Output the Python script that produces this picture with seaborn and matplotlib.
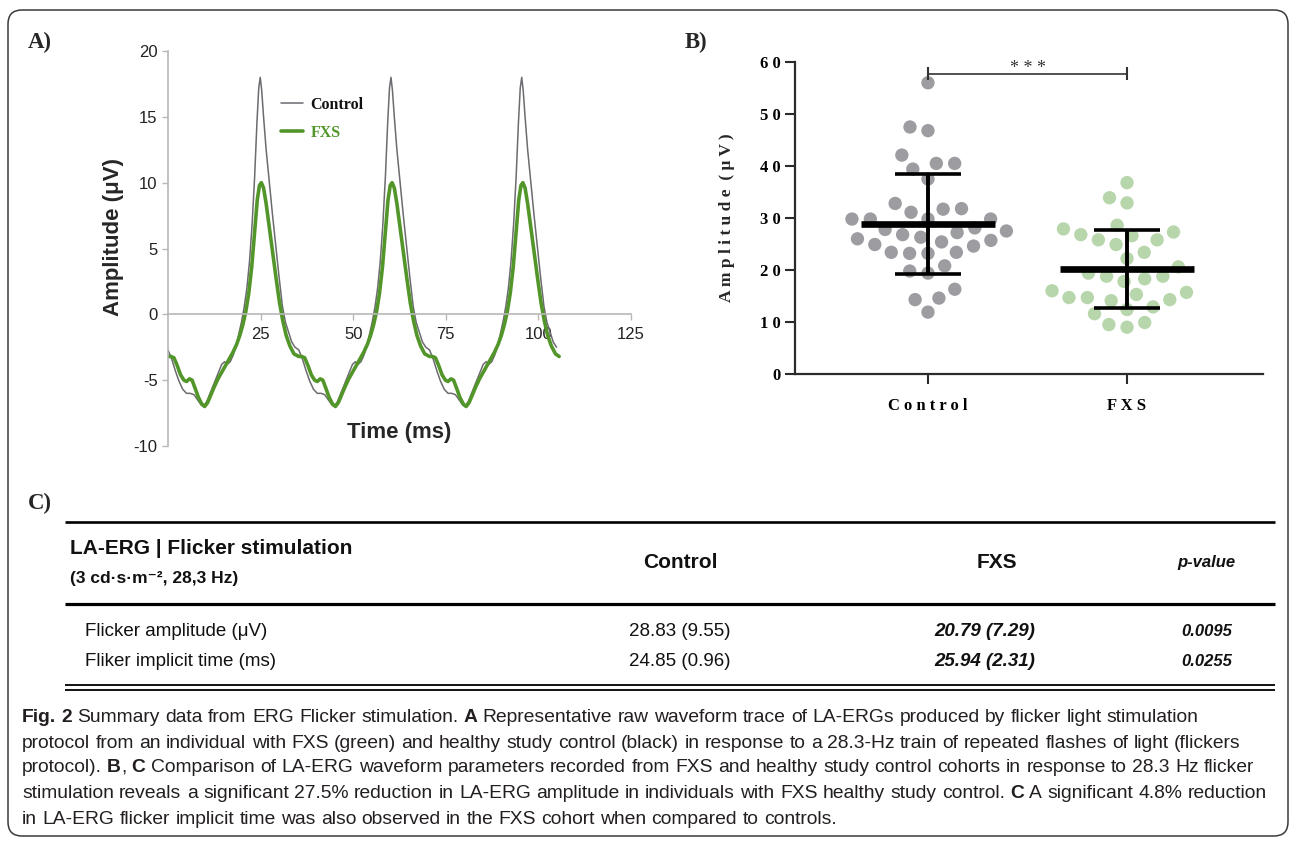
import matplotlib
matplotlib.use("Agg")
import numpy as np
import pandas as pd
import matplotlib.pyplot as plt
from matplotlib.lines import Line2D
from matplotlib.patches import FancyBboxPatch
import seaborn as sns

W, H = 1290, 841

# ---- panel A: representative flicker waveforms (ms, uV) ----
series_names = ["Control", "FXS"]
time_ctrl = [0.0, 1.0, 2.0, 3.0, 4.0, 5.0, 6.0, 7.0, 8.0, 9.0, 9.6, 10.5, 11.5, 12.5, 13.5,
             14.5, 15.3, 16.0, 16.8, 17.6, 18.4, 19.2, 19.9, 20.6, 21.3, 22.0, 22.7, 23.4, 24.0,
             24.5, 24.9, 25.3, 25.8, 26.5, 27.3, 28.2, 29.1, 30.0, 30.9, 31.7, 32.5, 33.4, 34.3,
             35.3, 36.3, 37.3, 38.3, 39.3, 40.3, 41.3, 42.3, 43.3, 44.3, 44.9, 45.8, 46.8, 47.8,
             48.8, 49.8, 50.6, 51.3, 52.1, 52.9, 53.7, 54.5, 55.2, 55.9, 56.6, 57.3, 58.0, 58.7,
             59.3, 59.8, 60.2, 60.6, 61.1, 61.8, 62.6, 63.5, 64.4, 65.3, 66.2, 67.0, 67.8, 68.7,
             69.6, 70.6, 71.6, 72.6, 73.6, 74.6, 75.6, 76.6, 77.6, 78.6, 79.6, 80.2, 81.1, 82.1,
             83.1, 84.1, 85.1, 85.9, 86.6, 87.4, 88.2, 89.0, 89.8, 90.5, 91.2, 91.9, 92.6, 93.3,
             94.0, 94.6, 95.1, 95.5, 95.9, 96.4, 97.1, 97.9, 98.8, 99.7, 100.6, 101.5, 102.3,
             103.1, 104.0, 104.9]
amp_ctrl = [-2.7, -3.4, -4.3, -5.1, -5.7, -6.0, -6.0, -6.1, -6.5, -6.9, -7.0, -6.6, -5.9, -5.2, -4.5,
            -3.8, -3.6, -3.8, -3.6, -3.1, -2.4, -1.4, -0.5, 0.6, 2.0, 4.0, 6.8, 10.5, 14.5,
            17.2, 18.0, 17.0, 15.0, 12.5, 10.2, 7.6, 5.2, 2.8, 0.6, -0.6, -1.3, -2.1, -2.5,
            -2.7, -3.4, -4.3, -5.1, -5.7, -6.0, -6.0, -6.1, -6.5, -6.9, -7.0, -6.6, -5.9, -5.2,
            -4.5, -3.8, -3.6, -3.8, -3.6, -3.1, -2.4, -1.4, -0.5, 0.6, 2.0, 4.0, 6.8, 10.5,
            14.5, 17.2, 18.0, 17.0, 15.0, 12.5, 10.2, 7.6, 5.2, 2.8, 0.6, -0.6, -1.3, -2.1,
            -2.5, -2.7, -3.4, -4.3, -5.1, -5.7, -6.0, -6.0, -6.1, -6.5, -6.9, -7.0, -6.6, -5.9,
            -5.2, -4.5, -3.8, -3.6, -3.8, -3.6, -3.1, -2.4, -1.4, -0.5, 0.6, 2.0, 4.0, 6.8,
            10.5, 14.5, 17.2, 18.0, 17.0, 15.0, 12.5, 10.2, 7.6, 5.2, 2.8, 0.6, -0.6,
            -1.3, -2.1, -2.5]
time_fxs = [0.0, 0.8, 1.6, 2.5, 3.4, 4.3, 5.0, 5.8, 6.5, 7.3, 8.2, 9.1, 9.9, 10.7, 11.6, 12.5,
            13.5, 14.5, 15.5, 16.5, 17.5, 18.5, 19.4, 20.2, 21.0, 21.8, 22.6, 23.4, 24.1, 24.7,
            25.2, 25.8, 26.5, 27.4, 28.3, 29.2, 30.1, 31.0, 31.9, 32.9, 34.0,
            35.3, 36.1, 36.9, 37.8, 38.7, 39.6, 40.3, 41.1, 41.8, 42.6, 43.5, 44.4, 45.2, 46.0,
            46.9, 47.8, 48.8, 49.8, 50.8, 51.8, 52.8, 53.8, 54.7, 55.5, 56.3, 57.1, 57.9, 58.7,
            59.4, 60.0, 60.5, 61.1, 61.8, 62.7, 63.6, 64.5, 65.4, 66.3, 67.2, 68.2, 69.3,
            70.6, 71.4, 72.2, 73.1, 74.0, 74.9, 75.6, 76.4, 77.1, 77.9, 78.8, 79.7, 80.5, 81.3,
            82.2, 83.1, 84.1, 85.1, 86.1, 87.1, 88.1, 89.1, 90.0, 90.8, 91.6, 92.4, 93.2, 94.0,
            94.7, 95.3, 95.8, 96.4, 97.1, 98.0, 98.9, 99.8, 100.7, 101.6, 102.5, 103.5, 104.6,
            105.6]
amp_fxs = [-3.2, -3.2, -3.3, -3.9, -4.6, -5.0, -5.1, -4.9, -5.0, -5.6, -6.3, -6.8, -7.0, -6.7, -6.1,
           -5.5, -4.9, -4.4, -3.9, -3.4, -2.9, -2.3, -1.6, -0.8, 0.2, 1.6, 3.6, 6.3, 8.7, 9.8,
           10.0, 9.6, 8.4, 6.5, 4.6, 2.7, 0.9, -0.5, -1.6, -2.4, -3.0,
           -3.2, -3.2, -3.3, -3.9, -4.6, -5.0, -5.1, -4.9, -5.0, -5.6, -6.3, -6.8, -7.0, -6.7,
           -6.1, -5.5, -4.9, -4.4, -3.9, -3.4, -2.9, -2.3, -1.6, -0.8, 0.2, 1.6, 3.6, 6.3,
           8.7, 9.8, 10.0, 9.6, 8.4, 6.5, 4.6, 2.7, 0.9, -0.5, -1.6, -2.4, -3.0,
           -3.2, -3.2, -3.3, -3.9, -4.6, -5.0, -5.1, -4.9, -5.0, -5.6, -6.3, -6.8, -7.0, -6.7,
           -6.1, -5.5, -4.9, -4.4, -3.9, -3.4, -2.9, -2.3, -1.6, -0.8, 0.2, 1.6, 3.6, 6.3,
           8.7, 9.8, 10.0, 9.6, 8.4, 6.5, 4.6, 2.7, 0.9, -0.5, -1.6, -2.4, -3.0,
           -3.2]
a_xticks = [25, 50, 75, 100, 125]
a_yticks = [-10, -5, 0, 5, 10, 15, 20]

# ---- panel B: individual flicker amplitudes (uV) ----
groups = ["Control", "FXS"]
ctrl_amp = [56.0, 47.5, 46.8, 42.1, 40.5, 40.5, 39.4, 37.5,
            31.8, 31.1, 32.8, 31.7, 29.8, 29.8, 29.8, 29.8,
            27.8, 27.2, 26.3, 25.7, 24.9, 24.6, 25.4, 26.0, 26.8, 27.5, 28.1,
            23.4, 23.2, 23.2, 23.4, 20.8, 19.4, 19.8, 16.3, 14.6, 14.3, 11.9]
fxs_amp = [36.8, 33.9, 32.9, 27.9, 28.6, 26.8, 25.8, 25.8, 26.6, 27.3,
           24.9, 23.4, 22.2, 20.6, 19.4, 18.8, 17.8, 18.3, 18.8,
           16.0, 15.3, 14.7, 14.1, 12.9, 14.3, 14.7, 15.7,
           12.4, 11.6, 9.9, 9.0, 9.5]
b_yticks = [0, 10, 20, 30, 40, 50, 60]
sig_y = 57.7
sig_label = "* * *"

# ---- panel C: table ----
col_heads = ["Control", "FXS", "p-value"]
row_names = ["Flicker amplitude (μV)", "Fliker implicit time (ms)"]
ctrl_vals = ["28.83 (9.55)", "24.85 (0.96)"]
fxs_vals = ["20.79 (7.29)", "25.94 (2.31)"]
p_vals = ["0.0095", "0.0255"]

caption = [
    [("Fig. 2", True), (" Summary data from ERG Flicker stimulation. ", False), ("A", True),
     (" Representative raw waveform trace of LA-ERGs produced by flicker light stimulation", False)],
    [("protocol from an individual with FXS (green) and healthy study control (black) in response "
      "to a 28.3-Hz train of repeated flashes of light (flickers", False)],
    [("protocol). ", False), ("B", True), (", ", False), ("C", True),
     (" Comparison of LA-ERG waveform parameters recorded from FXS and healthy study control "
      "cohorts in response to 28.3 Hz flicker", False)],
    [("stimulation reveals a significant 27.5% reduction in LA-ERG amplitude in individuals with "
      "FXS healthy study control. ", False), ("C", True), (" A significant 4.8% reduction", False)],
    [("in LA-ERG flicker implicit time was also observed in the FXS cohort when compared to "
      "controls.", False)],
]

ctrl_line = "#6b6b70"
fxs_line = "#52962a"
ctrl_dot = "#9c9ca1"
fxs_dot = "#b8d6ab"
serif = ["Liberation Serif", "DejaVu Serif"]

sns.set_style("ticks")
plt.rcParams["font.family"] = ["Liberation Sans", "DejaVu Sans"]
plt.rcParams["axes.unicode_minus"] = False

fig = plt.figure(figsize=(W / 100, H / 100), dpi=100)

# background layer in pixel coordinates for the frame, table and caption
bg = fig.add_axes([0, 0, 1, 1])
bg.set_xlim(0, W)
bg.set_ylim(H, 0)
bg.axis("off")
bg.add_patch(FancyBboxPatch((8, 10), 1280, 826, boxstyle="round,pad=0,rounding_size=14",
                            fill=False, ec="#3a3a3a", lw=1.1))

for lbl, x, y in [("A)", 28, 42), ("B)", 685, 42), ("C)", 28, 503)]:
    bg.text(x, y, lbl, family=serif, fontweight="bold", fontsize=16.5, va="center")

# ---- A ----
axA = fig.add_axes([168 / W, 1 - 446 / H, 463 / W, 395 / H])
axA.patch.set_alpha(0)
sns.lineplot(x=time_ctrl, y=amp_ctrl, ax=axA, color=ctrl_line, lw=1.1, estimator=None, sort=False)
sns.lineplot(x=time_fxs, y=amp_fxs, ax=axA, color=fxs_line, lw=2.6, estimator=None, sort=False)
axA.set_xlim(0, 125)
axA.set_ylim(-10, 20)
axA.spines[["top", "right"]].set_visible(False)
axA.spines["bottom"].set_position(("data", 0))
for s in ["left", "bottom"]:
    axA.spines[s].set_color("#b8b8b8")
    axA.spines[s].set_linewidth(1.2)
axA.set_xticks(a_xticks)
axA.set_yticks(a_yticks)
axA.tick_params(length=4, width=1, color="#b8b8b8", labelcolor="#222222", labelsize=12)
axA.tick_params(axis="x", pad=5)
axA.set_ylabel("Amplitude (μV)", fontsize=16, fontweight="bold")
axA.yaxis.set_label_coords(-0.095, 0.53)
axA.set_xlabel("Time (ms)", fontsize=16, fontweight="bold")
axA.xaxis.set_label_coords(0.50, 0.06)
handles = [Line2D([], [], color=ctrl_line, lw=1.1), Line2D([], [], color=fxs_line, lw=2.6)]
leg = axA.legend(handles, series_names, loc="upper left", bbox_to_anchor=(281 / W, 1 - 97 / H),
                 bbox_transform=fig.transFigure, frameon=False, handlelength=1.4,
                 handletextpad=0.45, labelspacing=0.75, borderpad=0, borderaxespad=0,
                 prop={"family": serif, "weight": "bold", "size": 11.5})
leg.get_texts()[0].set_color("#111111")
leg.get_texts()[1].set_color(fxs_line)

# ---- B ----
axB = fig.add_axes([795 / W, 1 - 374 / H, 468 / W, 312 / H])
axB.patch.set_alpha(0)
df_b = pd.DataFrame({"group": ["Control"] * len(ctrl_amp) + ["FXS"] * len(fxs_amp),
                     "amp": ctrl_amp + fxs_amp})
# an invisible edge widens the swarm spacing, as in the original dot plot
sns.swarmplot(data=df_b, x="group", y="amp", hue="group", order=groups, hue_order=groups,
              palette=[ctrl_dot, fxs_dot], size=9.6, linewidth=3, edgecolor="none",
              ax=axB, legend=False, zorder=2)
stats = df_b.groupby("group")["amp"].agg(["mean", "std"]).reindex(groups)
for i, g in enumerate(groups):
    m, s = stats.loc[g, "mean"], stats.loc[g, "std"]
    axB.hlines(m, i - 0.335, i + 0.335, colors="black", lw=4.8, zorder=4)
    axB.errorbar(i, m, yerr=s, fmt="none", ecolor="black", elinewidth=2.8,
                 capsize=24, capthick=2.6, zorder=4)
axB.plot([0, 1], [sig_y, sig_y], color="#333333", lw=1.2)
axB.vlines([0, 1], sig_y - 1.2, sig_y + 1.3, color="#333333", lw=1.5)
axB.text(0.5, sig_y + 1.1, sig_label, ha="center", va="center", fontsize=13, family=serif,
         color="#333333")
axB.set_xlim(-0.668, 1.683)
axB.set_ylim(0, 60)
sns.despine(ax=axB)
for s in ["left", "bottom"]:
    axB.spines[s].set_color("#2b2b2b")
    axB.spines[s].set_linewidth(1.6)
axB.set_yticks(b_yticks)
axB.set_yticklabels([" ".join(str(v)) for v in b_yticks])
axB.set_xticks(range(len(groups)))
axB.set_xticklabels([" ".join(g) for g in groups])
axB.tick_params(length=7, width=1.5, color="#2b2b2b", labelcolor="black", labelsize=12)
axB.tick_params(axis="x", pad=10)
for t in axB.get_xticklabels() + axB.get_yticklabels():
    t.set_fontfamily(serif)
    t.set_fontweight("bold")
axB.set_xlabel("")
axB.set_ylabel("A m p l i t u d e  ( μ V )", family=serif, fontweight="bold", fontsize=12.5)
axB.yaxis.set_label_coords(-0.128, 0.5)

# ---- C: table ----
ink = "#111111"
bg.hlines(522, 65, 1275, color="black", lw=1.9)
bg.hlines(604, 65, 1275, color="black", lw=2.3)
bg.hlines([685, 690], 65, 1275, color="black", lw=1.3)
bg.text(70, 549, "LA-ERG | Flicker stimulation", fontsize=15, fontweight="bold", va="center", color=ink)
bg.text(70, 578, "(3 cd·s·m⁻², 28,3 Hz)", fontsize=12.5, fontweight="bold", va="center", color=ink)
bg.text(680, 563, col_heads[0], fontsize=15, fontweight="bold", ha="center", va="center", color=ink)
bg.text(997, 563, col_heads[1], fontsize=15, fontweight="bold", ha="center", va="center", color=ink)
bg.text(1206, 563, col_heads[2], fontsize=12, fontweight="bold", style="italic", ha="center",
        va="center", color=ink)
for k, y in enumerate([631, 662]):
    bg.text(85, y, row_names[k], fontsize=13.5, va="center", color=ink)
    bg.text(680, y, ctrl_vals[k], fontsize=13.5, ha="center", va="center", color=ink)
    bg.text(985, y, fxs_vals[k], fontsize=13.5, fontweight="bold", style="italic", ha="center",
            va="center", color=ink)
    bg.text(1207, y, p_vals[k], fontsize=12, fontweight="bold", style="italic", ha="center",
            va="center", color=ink)

# ---- caption, word by word so bold parts sit inline ----
renderer = fig.canvas.get_renderer()
cap_color = "#231f20"


def text_width(s, size, bold=False):
    t = bg.text(0, 0, s, fontsize=size, fontweight="bold" if bold else "normal")
    w = t.get_window_extent(renderer).width
    t.remove()
    return w


def rich_line(x, y, segments, size, keep=True):
    space_w = text_width("a a", size) - text_width("aa", size)
    cur = x
    made = []
    for text, bold in segments:
        for k, word in enumerate(text.split(" ")):
            if k > 0:
                cur += space_w
            if word:
                t = bg.text(cur, y, word, fontsize=size, color=cap_color, va="center",
                            fontweight="bold" if bold else "normal")
                made.append(t)
                cur += t.get_window_extent(renderer).width
    if not keep:
        for t in made:
            t.remove()
    return cur - x


widest = max(rich_line(0, 0, line, 10, keep=False) for line in caption)
cap_size = 10 * 1252 / widest

for line, y in zip(caption, [717, 743, 768, 794, 820]):
    rich_line(22, y, line, cap_size)

fig.savefig("out.png", dpi=100)
